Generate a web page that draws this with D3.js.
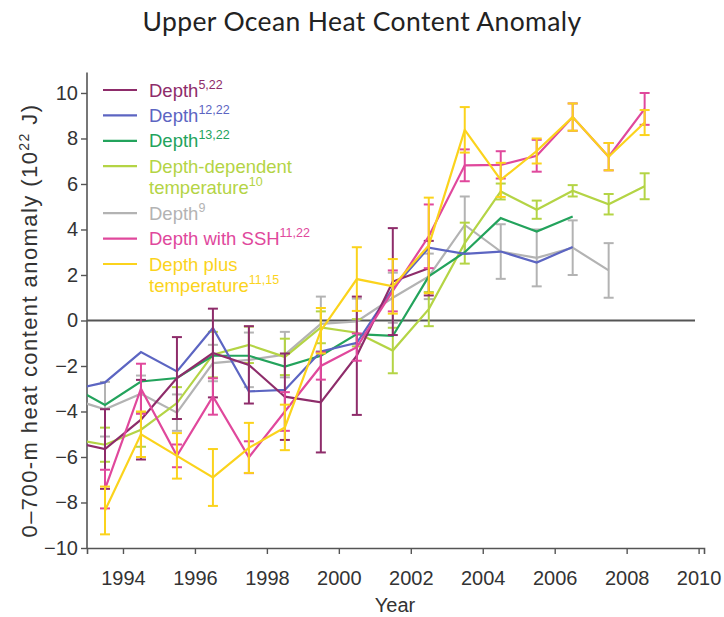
<!DOCTYPE html>
<html>
<head>
<meta charset="utf-8">
<script src="https://cdn.jsdelivr.net/npm/d3@7"></script>
<style>
  html, body { margin: 0; padding: 0; background: #fff; }
  svg { display: block; }
</style>
</head>
<body>
<svg id="chart" width="724" height="617"></svg>
<script>
// ---------------- data ----------------
const years = [1992.5, 1993.5, 1994.5, 1995.5, 1996.5, 1997.5, 1998.5, 1999.5, 2000.5,
               2001.5, 2002.5, 2003.5, 2004.5, 2005.5, 2006.5, 2007.5, 2008.5];

const depth522      = [-5.3, -5.65, -4.36, -2.53, -1.43, -1.95, -3.35, -3.6, -1.55, 1.71, 2.3, null, null, null, null, null, null];
const depth522Err   = [null, 1.75, 1.75, 1.8, 1.95, 1.7, 1.9, 2.2, 2.6, 2.35, 1.2, null, null, null, null, null, null];
const depth1222     = [-3.08, -2.72, -1.39, -2.24, -0.33, -3.12, -3.05, -1.36, -0.98, 1.4, 3.2, 2.93, 3.03, 2.55, 3.23, null, null];
const depth1322     = [-2.83, -3.71, -2.68, -2.53, -1.55, -1.55, -2.03, -1.55, -0.6, -0.68, 1.94, 3.0, 4.5, 3.91, 4.57, null, null];
const depthDepTemp  = [-5.18, -5.46, -4.8, -3.63, -1.5, -1.07, -1.6, -0.3, -0.54, -1.32, 0.5, 3.4, 5.67, 4.87, 5.7, 5.11, 5.9];
const depthDepTempErr = [null, 0.75, 0.75, 0.7, 1.0, 0.8, 0.8, 0.7, 0.6, 1.0, 0.75, 0.9, 0.35, 0.4, 0.25, 0.45, 0.57];
const depth9        = [-3.42, -3.9, -3.22, -4.05, -1.87, -1.73, -1.5, -0.15, -0.04, 1.0, 1.94, 4.2, 3.03, 2.75, 3.2, 2.2, null];
const depth9Err     = [null, 1.2, 0.8, 0.8, 0.8, 1.2, 1.0, 1.2, 1.0, 1.1, 1.0, 1.25, 1.2, 1.25, 1.2, 1.2, null];
const depthSSH      = [null, -7.41, -3.0, -5.95, -3.34, -6.01, -4.0, -2.0, -1.17, 1.3, 3.7, 6.82, 6.84, 7.24, 8.94, 7.2, 9.3];
const depthSSHErr   = [null, 0.85, 1.1, 0.5, 0.8, 0.7, 0.85, 0.6, 0.6, 0.9, 1.4, 0.7, 0.6, 0.7, 0.6, 0.6, 0.7];
const depthPlusTemp = [null, -8.35, -5.0, -5.95, -6.9, -5.6, -4.7, -0.45, 1.82, 1.5, 3.3, 8.38, 6.18, 7.45, 8.94, 7.2, 8.7];
const depthPlusTempErr = [null, 1.05, 1.0, 1.0, 1.25, 1.1, 1.0, 1.0, 1.4, 1.2, 2.1, 1.0, 0.75, 0.55, 0.6, 0.6, 0.55];

const xTicks = [1994, 1996, 1998, 2000, 2002, 2004, 2006, 2008, 2010];
const yTicks = [-10, -8, -6, -4, -2, 0, 2, 4, 6, 8, 10];

const series = [
  { key: "d9",   lines: [["Depth", "9"]],                                  vals: depth9,        err: depth9Err,        color: "#b3b3b3" },
  { key: "ddt",  lines: [["Depth-dependent", ""], ["temperature", "10"]],  vals: depthDepTemp,  err: depthDepTempErr,  color: "#b4d445" },
  { key: "d13",  lines: [["Depth", "13,22"]],                              vals: depth1322,     err: null,             color: "#23a35c" },
  { key: "d12",  lines: [["Depth", "12,22"]],                              vals: depth1222,     err: null,             color: "#5c65c2" },
  { key: "d5",   lines: [["Depth", "5,22"]],                               vals: depth522,      err: depth522Err,      color: "#8e2c6a" },
  { key: "ssh",  lines: [["Depth with SSH", "11,22"]],                     vals: depthSSH,      err: depthSSHErr,      color: "#e0489c" },
  { key: "dpt",  lines: [["Depth plus", ""], ["temperature", "11,15"]],    vals: depthPlusTemp, err: depthPlusTempErr, color: "#fbd31c" }
];
const legendOrder = ["d5", "d12", "d13", "ddt", "d9", "ssh", "dpt"];

// ---------------- layout ----------------
const svg = d3.select("#chart");
const x = d3.scaleLinear().domain([1993, 2010.15]).range([87, 704]);
const y = d3.scaleLinear().domain([-10, 10.9]).range([548, 72.5]);
const axisColor = "#555";
const textColor = "#333";
const font = "'Liberation Sans', Arial, Helvetica, sans-serif";

svg.append("defs").append("clipPath").attr("id", "plotclip")
  .append("rect").attr("x", x(1993)).attr("y", 0).attr("width", 700).attr("height", 617);

function fitWidth(sel, target) {
  const n = sel.text().length;
  const len = sel.node().getComputedTextLength();
  sel.attr("letter-spacing", ((target - len) / n).toFixed(3));
}

// title
const title = svg.append("text")
  .attr("x", 362).attr("y", 31)
  .attr("text-anchor", "middle")
  .attr("font-family", "Lato, 'Open Sans', sans-serif")
  .attr("font-size", 26.5)
  .attr("fill", "#222")
  .text("Upper Ocean Heat Content Anomaly");
fitWidth(title, 439);

// axes
const yAxis = d3.axisLeft(y).tickValues(yTicks).tickSize(6).tickPadding(3)
  .tickFormat(d => d < 0 ? "\u2212" + Math.abs(d) : d);
const gy = svg.append("g").attr("transform", `translate(${x(1993)},0)`).call(yAxis);
const xAxis = d3.axisBottom(x).tickValues(xTicks).tickSize(6).tickPadding(17).tickFormat(d3.format("d"));
const gx = svg.append("g").attr("transform", `translate(0,${y(-10)})`).call(xAxis);
[gx, gy].forEach(g => {
  g.select(".domain").attr("stroke", axisColor).attr("stroke-width", 1.6);
  g.selectAll(".tick line").attr("stroke", axisColor).attr("stroke-width", 1.4);
  g.selectAll(".tick text").attr("fill", textColor).attr("font-size", 20).attr("font-family", font);
});
gy.select(".domain").attr("d", `M-0,${y(-10)}V${y(10.9)}`);

// zero line
svg.append("line")
  .attr("x1", x(1993)).attr("x2", x(2009.9))
  .attr("y1", y(0)).attr("y2", y(0))
  .attr("stroke", "#555").attr("stroke-width", 2.2);

// axis titles
svg.append("text")
  .attr("x", 395).attr("y", 612)
  .attr("text-anchor", "middle")
  .attr("font-family", font).attr("font-size", 20).attr("fill", textColor)
  .text("Year");

const ylSize = 22;
const yl = svg.append("text")
  .attr("transform", `translate(37,${y(0)}) rotate(-90)`)
  .attr("text-anchor", "middle")
  .attr("font-family", font).attr("font-size", ylSize).attr("fill", textColor);
yl.append("tspan").text("0\u2013700-m heat content anomaly (10");
yl.append("tspan").attr("font-size", 14).attr("dy", -8.5).text("22");
yl.append("tspan").attr("dy", 8.5).text(" J)");
fitWidth(yl, 434);

// series
const plot = svg.append("g").attr("clip-path", "url(#plotclip)");
const line = d3.line()
  .defined(d => d.v !== null)
  .x(d => x(d.t)).y(d => y(d.v));

series.forEach(s => {
  const pts = years.map((t, i) => ({ t: t, v: s.vals[i], e: s.err ? s.err[i] : null }));
  const g = plot.append("g");
  const eb = pts.filter(d => d.v !== null && d.e !== null);
  const cap = 5;
  eb.forEach(d => {
    const x0 = x(d.t), y1 = y(d.v + d.e), y2 = y(d.v - d.e);
    g.append("line").attr("x1", x0).attr("x2", x0).attr("y1", y1).attr("y2", y2)
      .attr("stroke", s.color).attr("stroke-width", 2);
    [y1, y2].forEach(yy => g.append("line")
      .attr("x1", x0 - cap).attr("x2", x0 + cap).attr("y1", yy).attr("y2", yy)
      .attr("stroke", s.color).attr("stroke-width", 2));
  });
  g.append("path").datum(pts).attr("d", line)
    .attr("fill", "none").attr("stroke", s.color).attr("stroke-width", 2.2)
    .attr("stroke-linejoin", "miter");
});

// legend
const lg = svg.append("g");
let ly = 90;
legendOrder.forEach(k => {
  const s = series.find(d => d.key === k);
  lg.append("line").attr("x1", 103).attr("x2", 137).attr("y1", ly).attr("y2", ly)
    .attr("stroke", s.color).attr("stroke-width", 2.2);
  s.lines.forEach((ln, j) => {
    const t = lg.append("text").attr("x", 149).attr("y", ly + 6.5 + j * 21.6)
      .attr("font-family", font).attr("font-size", 18.5).attr("fill", s.color);
    t.append("tspan").text(ln[0]);
    if (ln[1]) t.append("tspan").attr("font-size", 12.5).attr("dy", -8).text(ln[1]);
  });
  ly += 25.4 + (s.lines.length - 1) * 21.6;
});
</script>
</body>
</html>
